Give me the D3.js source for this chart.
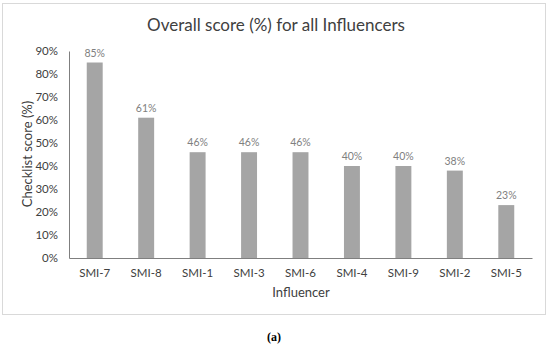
<!DOCTYPE html>
<html><head><meta charset="utf-8">
<script src="https://cdn.jsdelivr.net/npm/d3@7"></script>
<style>body{margin:0;background:#fff}svg{display:block;font-family:Lato,"Open Sans",sans-serif}</style>
</head><body><svg id="c" width="550" height="344"></svg>
<script>
const categories = ["SMI-7","SMI-8","SMI-1","SMI-3","SMI-6","SMI-4","SMI-9","SMI-2","SMI-5"];
const scores = [85,61,46,46,46,40,40,38,23];
const yTicks = [0,10,20,30,40,50,60,70,80,90];

const svg = d3.select("#c");
svg.append("rect").attr("x",2.5).attr("y",3.5).attr("width",543).attr("height",311)
  .attr("fill","#fff").attr("stroke","#d9d9d9");

const x = d3.scaleBand().domain(categories).range([69,532]).paddingInner(0.69).paddingOuter(0.345);
const y = d3.scaleLinear().domain([0,90]).range([258,51]);

const ya = svg.append("g").attr("transform","translate(69,0)")
  .call(d3.axisLeft(y).tickValues(yTicks).tickFormat(d=>d+"%").tickSize(0).tickPadding(11));
ya.select(".domain").attr("stroke","#7f7f7f");
ya.selectAll("text").attr("font-size",11.5).attr("fill","#404040").attr("font-family","Lato");

svg.selectAll("rect.bar").data(categories).enter().append("rect").attr("class","bar")
  .attr("x",d=>x(d)).attr("width",x.bandwidth())
  .attr("y",(d,i)=>y(scores[i])).attr("height",(d,i)=>y(0)-y(scores[i]))
  .attr("fill","#a5a5a5");

svg.selectAll("text.val").data(categories).enter().append("text").attr("class","val")
  .attr("x",d=>x(d)+x.bandwidth()/2).attr("y",(d,i)=>y(scores[i])-6)
  .attr("text-anchor","middle").attr("font-size",10.5).attr("fill","#808080")
  .text((d,i)=>scores[i]+"%");

const xa = svg.append("g").attr("transform","translate(0,258)")
  .call(d3.axisBottom(x).tickSize(0).tickPadding(11));
xa.select(".domain").attr("stroke","#7f7f7f");
xa.selectAll("text").attr("font-size",11.5).attr("fill","#404040").attr("font-family","Lato");

svg.append("text").attr("x",276).attr("y",31).attr("text-anchor","middle")
  .attr("font-size",17).attr("fill","#404040").text("Overall score (%) for all Influencers");
svg.append("text").attr("x",301).attr("y",297).attr("text-anchor","middle")
  .attr("font-size",13).attr("fill","#404040").text("Influencer");
svg.append("text").attr("transform","translate(32,154) rotate(-90)").attr("text-anchor","middle")
  .attr("font-size",13).attr("fill","#404040").text("Checklist score (%)");
svg.append("text").attr("x",274).attr("y",341).attr("text-anchor","middle")
  .attr("font-size",12).attr("font-weight","bold").attr("fill","#000").attr("font-family","Liberation Serif").text("(a)");
</script></body></html>
